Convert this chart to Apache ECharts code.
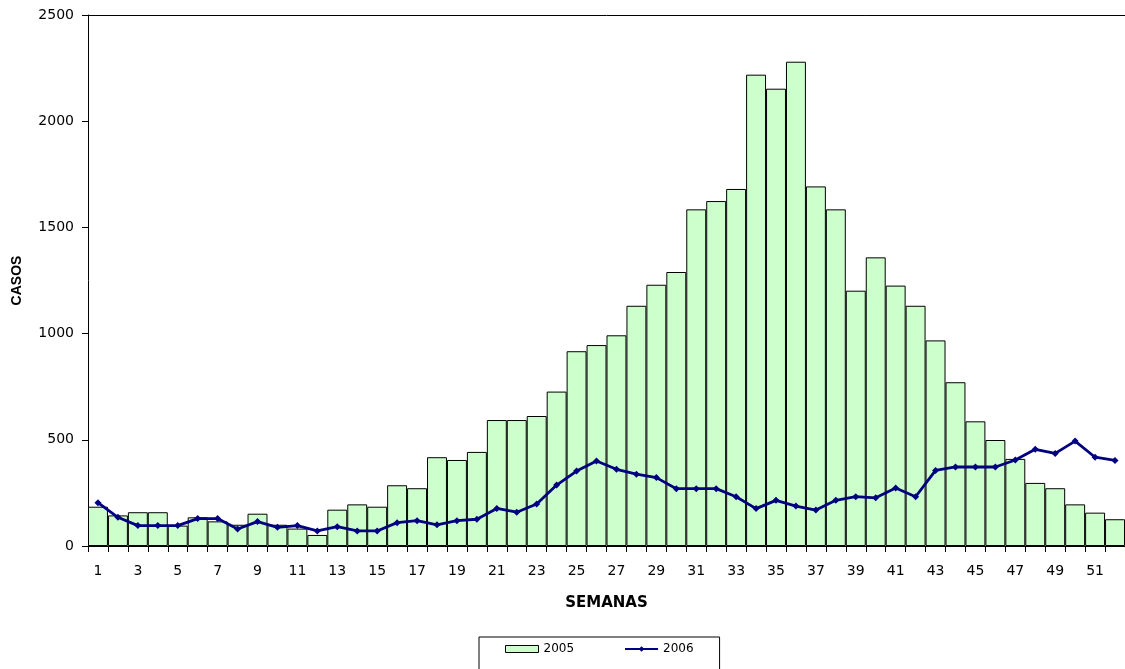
<!DOCTYPE html>
<html>
<head>
<meta charset="utf-8">
<script src="https://cdn.jsdelivr.net/npm/echarts@6/dist/echarts.min.js"></script>
<style>
html,body{margin:0;padding:0;background:#fff;}
#chart{width:1125px;height:669px;}
</style>
</head>
<body>
<div id="chart"></div>
<script>
var weeks = ['1','2','3','4','5','6','7','8','9','10','11','12','13','14','15','16','17','18','19','20','21','22','23','24','25','26','27','28','29','30','31','32','33','34','35','36','37','38','39','40','41','42','43','44','45','46','47','48','49','50','51','52'];
var cases2005 = [185,144,159,159,96,135,116,100,152,100,82,52,171,196,185,286,272,418,405,443,593,593,612,727,917,946,992,1131,1230,1290,1585,1624,1681,2219,2153,2280,1693,1585,1202,1359,1226,1131,968,771,587,499,410,297,272,196,157,126];
var cases2006 = [204,135,96,96,96,129,129,80,115,88,96,71,91,71,71,110,119,100,119,126,177,159,198,287,353,400,361,338,322,270,270,270,232,176,215,188,169,215,232,227,273,232,356,372,372,372,405,455,436,494,418,403];
var yTicks = {min:0, max:2500, interval:500};

var chart = echarts.init(document.getElementById('chart'), null, {renderer:'canvas'});
var tickFont = {fontFamily:'DejaVu Sans', fontSize:14, color:'#000'};
chart.setOption({
  animation:false,
  backgroundColor:'#fff',
  grid:{left:88, right:0, top:15, bottom:123, containLabel:false, outerBoundsMode:'none'},
  legend:{
    left:479, top:637,
    padding:[6,26,20,26],
    borderColor:'#000', borderWidth:1,
    itemGap:50, itemWidth:33, itemHeight:7,
    textStyle:{fontFamily:'DejaVu Sans', fontSize:12, color:'#000'},
    data:[{name:'2005', icon:'rect', itemStyle:{borderWidth:1, borderColor:'#000'}},'2006']
  },
  xAxis:[{
    type:'category', data:weeks, boundaryGap:true,
    name:'SEMANAS', nameLocation:'middle', nameGap:50,
    nameTextStyle:{fontFamily:'DejaVu Sans', fontWeight:'bold', fontSize:15, color:'#000'},
    axisLine:{lineStyle:{color:'#000', width:1}},
    axisTick:{show:true, interval:0, length:6, alignWithLabel:false, lineStyle:{color:'#000'}},
    axisLabel:Object.assign({interval:1, margin:18}, tickFont),
    splitLine:{show:false}
  },{
    type:'category', data:weeks, position:'top',
    axisLine:{show:true, onZero:false, lineStyle:{color:'#000', width:1}},
    axisTick:{show:false}, axisLabel:{show:false}, splitLine:{show:false}
  }],
  yAxis:{
    type:'value', min:yTicks.min, max:yTicks.max, interval:yTicks.interval,
    name:'CASOS', nameLocation:'middle', nameGap:64, nameRotate:90,
    nameTextStyle:{fontFamily:'Liberation Sans', fontWeight:'bold', fontSize:14, color:'#000'},
    axisLine:{show:true, lineStyle:{color:'#000', width:1}},
    axisTick:{show:true, length:6, lineStyle:{color:'#000'}},
    axisLabel:Object.assign({margin:14, formatter:function(v){return String(v);}}, tickFont),
    splitLine:{show:false}
  },
  series:[{
    name:'2005', type:'bar', data:cases2005,
    barWidth:'100%', barCategoryGap:'0%',
    itemStyle:{color:'#CCFFCC', borderColor:'#000', borderWidth:1}
  },{
    name:'2006', type:'line', data:cases2006,
    symbol:'diamond', symbolSize:7, showSymbol:true,
    lineStyle:{color:'#000080', width:2.8},
    itemStyle:{color:'#000080'}
  }]
});
</script>
</body>
</html>
